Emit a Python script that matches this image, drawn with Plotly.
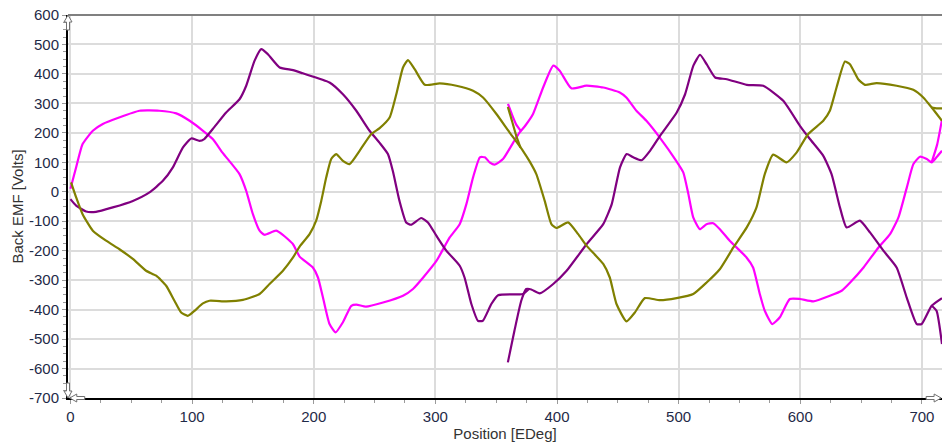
import plotly.graph_objects as go

# ---- Back EMF samples per phase (position in electrical degrees, EMF in volts) ----
# Phase A (magenta)
mag_pos = [0, 4.7, 10, 18.4, 26.6, 40, 56.8, 73, 87, 98, 109, 117, 125, 139, 144.5, 150, 155.5,
           159.6, 169, 174.6, 183, 188.4, 199.3, 203.5, 207.6, 213, 218, 224, 230.9, 235, 243, 257,
           273.4, 281.6, 290, 301, 311.8, 320, 325.5, 331, 336.6, 340.7, 344.6, 348.8, 355.6, 364,
           369, 374, 380.3, 388.6, 396.9, 402.2, 411.8, 424.2, 438, 451.6, 457, 465.3, 473.5, 484.5,
           498, 503.8, 508, 512, 517.4, 522.9, 528.4, 533.9, 542, 555.8, 561.2, 566.7, 570.8, 577,
           583.2, 591.4, 599.7, 610.7, 624.3, 634, 641, 652, 664.3, 673.8, 680.7, 687.6, 693, 698.4,
           704, 708, 712, 716.5]
mag_emf = [10, 83, 162, 207, 230, 252, 275, 275, 266, 241, 207, 179, 133, 60, 3, -76, -132,
           -146, -132, -146, -178, -220, -257, -291, -359, -449, -477, -443, -387, -383, -390, -376,
           -353, -330, -291, -234, -155, -110, -42, 49, 117, 117, 100, 92, 111, 167,
           200, 225, 264, 354, 428, 411, 351, 360, 354, 337, 320, 275, 241, 184,
           105, 66, -8, -87, -127, -110, -107, -127, -166, -223, -257, -347, -404, -449,
           -426, -364, -364, -372, -353, -336, -308, -257, -189, -144, -87, 15, 94, 119,
           111, 100, 117, 139]
mag_restart_pos = [359.7, 363, 366.5, 370]
mag_restart_emf = [298, 262, 228, 208]
mag_end_pos = [708, 712.5, 716.5]
mag_end_emf = [100, 160, 245]

# Phase B (purple)
pur_pos = [0, 4.7, 12.9, 21, 34.8, 51.3, 65, 76, 84.2, 92.4, 99.3, 106, 110, 117, 128, 139, 144.5,
           151.4, 156.9, 162.3, 172, 183, 191, 213, 224, 235, 245.9, 254, 261, 265, 270.5, 276, 280,
           288.4, 293.9, 300.8, 309, 320, 324, 329.6, 335, 339, 346, 351.6, 372, 377.5, 385.8,
           396.9, 407.9, 424.3, 438, 445, 451.8, 457.3, 462.7, 469.6, 476.5, 484.7, 498.4, 505.3,
           512.1, 517.6, 523, 530, 539.6, 556, 569.5, 586, 599.7, 607.9, 618.9, 625.7, 632.6, 638.1,
           649, 657.3, 668.3, 679.2, 687.5, 695.7, 699.8, 708, 716.5]
pur_emf = [-25, -47, -67, -68, -53, -31, -2, 37, 83, 150, 181, 173, 179, 213, 269, 314, 360,
           445, 484, 467, 422, 413, 402, 371, 331, 275, 207, 167, 128, 71, -31, -104, -112,
           -89, -104, -149, -200, -251, -291, -381, -438, -438, -381, -351, -347, -330, -345,
           -313, -268, -178, -110, -42, 83, 128, 117, 107, 139, 190, 269, 331,
           428, 465, 433, 388, 382, 363, 360, 309, 224, 179, 122, 60, -53, -121,
           -98, -138, -200, -257, -359, -449, -449, -387, -361]
pur_restart_pos = [359.6, 365, 370.6, 374.7, 377.5]
pur_restart_emf = [-579, -472, -370, -330, -330]
pur_end_pos = [708, 712, 716.5]
pur_end_emf = [-387, -404, -517]

# Phase C (olive)
olv_pos = [0.5, 4.7, 10, 18.4, 29.3, 40.3, 51.3, 62.2, 70.5, 78.7, 85.5, 91, 96.5, 102, 108.9, 114.3,
           128, 141.8, 155.5, 163.7, 174.7, 183, 188.4, 196.6, 202, 206.2, 210.3, 214.4, 218.5, 224,
           229.5, 237.7, 247.3, 254.2, 262.4, 267.9, 273.4, 277.5, 283, 291.3, 303.6, 317.3, 331,
           339.2, 350.2, 361.1, 372, 377.5, 383, 389.9, 395.4, 399.5, 409.1, 417.4, 424.2, 438,
           443.4, 448.9, 457.1, 464, 472.2, 484.6, 498.3, 512, 523, 534, 545, 556, 564, 570.8, 577.7,
           588.7, 596.9, 606.5, 618.9, 624.3, 629.8, 636.7, 640.8, 647.6, 653.1, 662.7, 679.2, 692.9,
           701.1, 708, 716.5]
olv_emf = [32, -19, -76, -132, -166, -195, -228, -268, -285, -319, -370, -410, -421, -404, -379, -370,
           -372, -367, -347, -313, -268, -223, -186, -144, -98, -31, 49, 111, 128, 105,
           94, 139, 196, 216, 252, 331, 422, 447, 416, 363, 368, 360, 343,
           320, 264, 201, 139, 103, 60, -31, -110, -123, -104, -144, -183, -245,
           -291, -381, -440, -410, -361, -368, -361, -347, -308, -262, -189, -121, -53, 60, 126,
           100, 133, 196, 241, 275, 354, 442, 433, 382, 363, 369, 360, 346,
           320, 286, 241]
olv_restart_pos = [359.6, 363, 366.5, 370]
olv_restart_emf = [288, 240, 190, 150]
olv_end_pos = [708, 712, 716.5]
olv_end_emf = [286, 283, 283]

y_ticks = list(range(-700, 601, 100))
x_ticks = list(range(0, 701, 100))

MAGENTA = "#ff00ff"
PURPLE = "#800080"
OLIVE = "#808000"

fig = go.Figure()

series = [
    (mag_pos, mag_emf, MAGENTA), (mag_restart_pos, mag_restart_emf, MAGENTA), (mag_end_pos, mag_end_emf, MAGENTA),
    (pur_pos, pur_emf, PURPLE), (pur_restart_pos, pur_restart_emf, PURPLE), (pur_end_pos, pur_end_emf, PURPLE),
    (olv_pos, olv_emf, OLIVE), (olv_restart_pos, olv_restart_emf, OLIVE), (olv_end_pos, olv_end_emf, OLIVE),
]
for xs, ys, col in series:
    fig.add_trace(go.Scatter(x=xs, y=ys, mode="lines",
                             line=dict(color=col, width=2.2, shape="spline", smoothing=0.5),
                             showlegend=False, hoverinfo="skip"))

tick_font = dict(family="Liberation Sans, Arial, sans-serif", size=15, color="#1f2a48")
title_font = dict(family="Liberation Sans, Arial, sans-serif", size=15, color="#333333")

fig.update_layout(
    width=942, height=446,
    margin=dict(l=68, r=0, t=15, b=48),
    paper_bgcolor="white", plot_bgcolor="white",
    xaxis=dict(
        range=[-2, 716.5], tickvals=x_ticks, ticktext=[str(v) for v in x_ticks],
        showgrid=True, gridcolor="#dcdcdc", gridwidth=1.5, zeroline=False,
        showline=True, linecolor="black", linewidth=2,
        ticks="outside", ticklen=4, tickcolor="#9a9a9a", tickfont=tick_font,
        minor=dict(dtick=25, tick0=0, ticks="outside", ticklen=3, tickcolor="#9a9a9a", showgrid=False),
        title=dict(text="Position [EDeg]", font=title_font, standoff=4),
    ),
    yaxis=dict(
        range=[-700, 600], tickvals=y_ticks, ticktext=[str(v) for v in y_ticks],
        showgrid=True, gridcolor="#dcdcdc", gridwidth=1.5, zeroline=False,
        showline=True, linecolor="black", linewidth=2,
        ticks="outside", ticklen=4, tickcolor="#9a9a9a", tickfont=tick_font,
        minor=dict(dtick=25, tick0=0, ticks="outside", ticklen=3, tickcolor="#9a9a9a", showgrid=False),
        title=dict(text="Back EMF [Volts]", font=title_font, standoff=2),
    ),
)

# gray frame line along the top of the plotting area
fig.add_shape(type="line", xref="paper", yref="paper", x0=0, x1=1, y0=1, y1=1,
              line=dict(color="#808080", width=2), layer="above")

# hollow scroll arrows at both ends of each axis (pixel-sized paths)
arrow_style = dict(fillcolor="white", line=dict(color="#707070", width=1), layer="above",
                   xref="paper", yref="paper", xsizemode="pixel", ysizemode="pixel")
up = "M 0 0 L -4 -7 L -1.5 -7 L -1.5 -15 L 1.5 -15 L 1.5 -7 L 4 -7 Z"
down = "M 0 0 L -4 7 L -1.5 7 L -1.5 15 L 1.5 15 L 1.5 7 L 4 7 Z"
left = "M 0 0 L 7 4 L 7 1.5 L 15 1.5 L 15 -1.5 L 7 -1.5 L 7 -4 Z"
right = "M 0 0 L -7 4 L -7 1.5 L -15 1.5 L -15 -1.5 L -7 -1.5 L -7 -4 Z"
fig.add_shape(type="path", path=up, xanchor=0, yanchor=1, **arrow_style)
fig.add_shape(type="path", path=down, xanchor=0, yanchor=0, **arrow_style)
fig.add_shape(type="path", path=left, xanchor=0.002, yanchor=0, **arrow_style)
fig.add_shape(type="path", path=right, xanchor=0.999, yanchor=0, **arrow_style)

fig.write_html("out.html")
